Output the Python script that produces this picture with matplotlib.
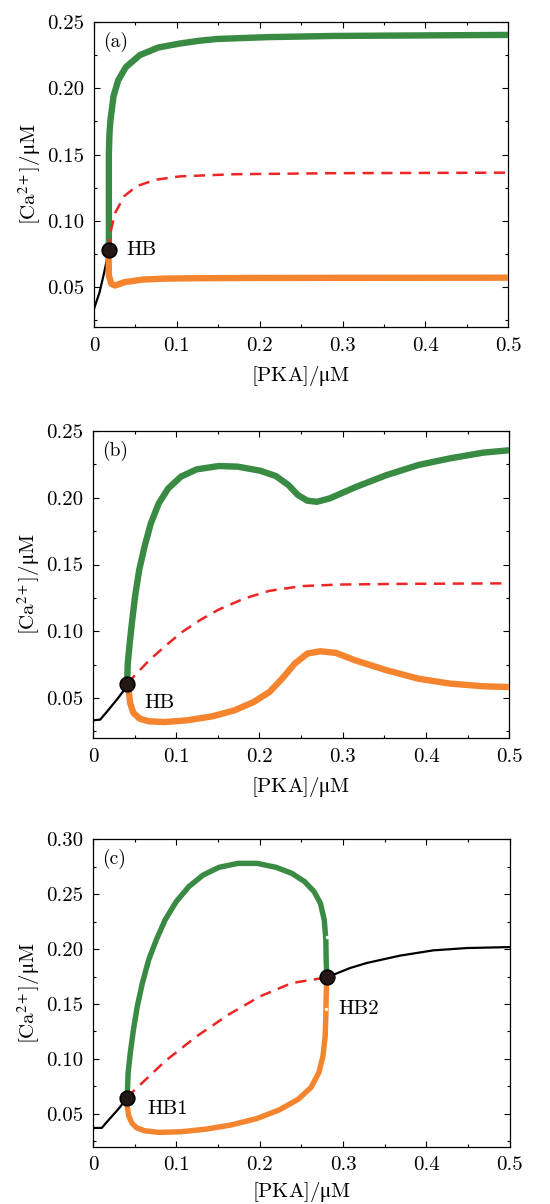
import numpy as np
import matplotlib
matplotlib.use('Agg')
import matplotlib.pyplot as plt
from matplotlib.ticker import MultipleLocator

plt.rcParams['font.family'] = ['cmr10', 'DejaVu Serif']
plt.rcParams['mathtext.fontset'] = 'stix'
plt.rcParams['axes.unicode_minus'] = False
plt.rcParams['axes.formatter.use_mathtext'] = True

GREEN = '#398a43'
ORANGE = '#f5842f'
RED = '#ee2525'
DOT = '#231815'
UM = r'$\mathrm{\mu}$M'

####################################################################
### (a)
####################################################################
a_black_x = [0.0, 0.0067, 0.0123, 0.0179]
a_black_y = [0.0338, 0.0463, 0.0613, 0.078]
a_green_x = [0.0179, 0.0179, 0.0179, 0.0186, 0.0198, 0.0235, 0.0291, 0.0384, 0.0552, 0.0776,
             0.1037, 0.126, 0.148, 0.2085, 0.289, 0.5]
a_green_y = [0.078, 0.0813, 0.151, 0.166, 0.176, 0.194, 0.206, 0.216, 0.225, 0.2308,
             0.2338, 0.2358, 0.2372, 0.2386, 0.2395, 0.2403]
a_orange_x = [0.0179, 0.0176, 0.0179, 0.0209, 0.0254, 0.0366, 0.059, 0.085, 0.126, 0.2, 0.3, 0.5]
a_orange_y = [0.078, 0.0713, 0.0588, 0.0525, 0.0513, 0.0538, 0.0558, 0.0565, 0.0568, 0.057,
              0.0571, 0.0572]
a_red_x = [0.0179, 0.0198, 0.0254, 0.0366, 0.0515, 0.0739, 0.1037, 0.168, 0.289, 0.5]
a_red_y = [0.078, 0.0913, 0.106, 0.1188, 0.1262, 0.1310, 0.1336, 0.1352, 0.1360, 0.1364]
a_hb_x = [0.0179]
a_hb_y = [0.078]

####################################################################
### (b)
####################################################################
b_black_x = [0.0, 0.0087, 0.0182, 0.0296, 0.0403, 0.041]
b_black_y = [0.0333, 0.0338, 0.0408, 0.0495, 0.0583, 0.0608]
b_green_x = [0.041, 0.0418, 0.0441, 0.0467, 0.0505, 0.0555, 0.0619, 0.0695, 0.079, 0.0904,
             0.1056, 0.1246, 0.1512, 0.174, 0.2006, 0.2196, 0.2348, 0.2462, 0.2576, 0.269,
             0.2842, 0.3146, 0.3526, 0.3906, 0.4286, 0.4685, 0.5]
b_green_y = [0.0608, 0.0758, 0.0908, 0.1058, 0.1258, 0.1458, 0.1633, 0.1808, 0.1958, 0.207,
             0.2158, 0.2213, 0.2238, 0.2233, 0.2203, 0.2163, 0.2095, 0.202, 0.1978, 0.197,
             0.1995, 0.2078, 0.217, 0.2245, 0.2295, 0.2338, 0.2356]
b_orange_x = [0.041, 0.0429, 0.0448, 0.0486, 0.0562, 0.0676, 0.0866, 0.1132, 0.1436, 0.1702,
              0.193, 0.212, 0.2272, 0.2424, 0.2576, 0.2728, 0.2918, 0.3146, 0.3526, 0.3906,
              0.4286, 0.4685, 0.5]
b_orange_y = [0.0608, 0.0558, 0.0458, 0.0388, 0.0345, 0.0325, 0.032, 0.0333, 0.0363, 0.0408,
              0.047, 0.0545, 0.0645, 0.0758, 0.0833, 0.085, 0.0838, 0.0783, 0.0708, 0.0645,
              0.0608, 0.0588, 0.0582]
b_red_x = [0.041, 0.0486, 0.0676, 0.0866, 0.1056, 0.1284, 0.1512, 0.1816, 0.212, 0.25,
           0.2956, 0.3716, 0.4666, 0.5]
b_red_y = [0.0608, 0.0658, 0.0783, 0.0888, 0.0988, 0.1083, 0.1163, 0.1245, 0.1303, 0.1338,
           0.135, 0.1355, 0.1358, 0.1359]
b_hb_x = [0.041]
b_hb_y = [0.0608]

####################################################################
### (c)
####################################################################
c_black1_x = [0.0, 0.0106, 0.019, 0.0296, 0.041]
c_black1_y = [0.0372, 0.0372, 0.0446, 0.0536, 0.0642]
c_black2_x = [0.2804, 0.3083, 0.3283, 0.3682, 0.4081, 0.448, 0.5]
c_black2_y = [0.1742, 0.1827, 0.1873, 0.194, 0.1988, 0.2009, 0.2018]
c_green_x = [0.041, 0.0422, 0.0448, 0.0486, 0.0532, 0.0593, 0.0669, 0.076, 0.0866, 0.0999,
             0.1151, 0.1322, 0.1512, 0.174, 0.1968, 0.2196, 0.2386, 0.2538, 0.2652, 0.2728,
             0.2774, 0.2793, 0.2797, 0.2804]
c_green_y = [0.0642, 0.0875, 0.1056, 0.1268, 0.1479, 0.1691, 0.1903, 0.2084, 0.2266, 0.2432,
             0.2569, 0.2674, 0.2744, 0.278, 0.278, 0.2744, 0.2689, 0.2614, 0.2523, 0.2417,
             0.2266, 0.2084, 0.1903, 0.1742]
c_orange_x = [0.041, 0.041, 0.0429, 0.0467, 0.0524, 0.0619, 0.079, 0.1056, 0.136, 0.1664,
              0.1968, 0.2234, 0.2462, 0.2614, 0.2709, 0.2759, 0.2785, 0.2793, 0.2797, 0.2804]
c_orange_y = [0.0642, 0.0572, 0.0482, 0.0415, 0.0373, 0.0346, 0.0331, 0.0337, 0.0361, 0.04,
              0.0458, 0.0536, 0.0633, 0.0739, 0.0875, 0.1026, 0.1208, 0.1389, 0.1571, 0.1742]
c_red_x = [0.041, 0.0467, 0.0866, 0.1246, 0.1626, 0.2006, 0.2386, 0.2804]
c_red_y = [0.0642, 0.0693, 0.098, 0.1207, 0.1403, 0.157, 0.1691, 0.1742]
c_hb_x = [0.041, 0.2804]
c_hb_y = [0.0642, 0.1742]
c_spot_x = [0.2803, 0.2800]
c_spot_y = [0.211, 0.145]

####################################################################
### Figure
####################################################################
fig = plt.figure(figsize=(5.5, 12.04), dpi=100)
fig.patch.set_facecolor('white')

rects = [
    [0.171, 0.7284, 0.753, 0.2533],
    [0.169, 0.387, 0.757, 0.255],
    [0.169, 0.0475, 0.758, 0.2555],
]


def style(ax, ymax, yticks, xpad=7):
    ax.set_xlim(0, 0.5)
    ax.set_ylim(0.02, ymax)
    ax.set_xticks([0, 0.1, 0.2, 0.3, 0.4, 0.5])
    ax.set_xticklabels(['0', '0.1', '0.2', '0.3', '0.4', '0.5'])
    ax.set_yticks(yticks)
    ax.set_yticklabels(['%.2f' % v for v in yticks])
    ax.xaxis.set_minor_locator(MultipleLocator(0.05))
    ax.yaxis.set_minor_locator(MultipleLocator(0.025))
    ax.tick_params(axis='both', which='major', direction='in', length=4, width=0.8,
                   labelsize=15, pad=7, top=True, right=True)
    ax.tick_params(axis='both', which='minor', direction='in', length=2.5, width=0.8,
                   top=True, right=True)
    for sp in ax.spines.values():
        sp.set_linewidth(0.9)
    ax.set_xlabel('[PKA]/' + UM, fontsize=15, labelpad=xpad)
    ax.set_ylabel('[Ca$^{2+}$]/' + UM, fontsize=15, labelpad=3)


def hb(ax, x, y):
    ax.plot(x, y, ls='none', marker='o', ms=10.5, mfc=DOT, mec='black', mew=1.2, zorder=10)


line_kw = dict(solid_capstyle='round', solid_joinstyle='round')
dash = (0, (4.5, 3))

# (a)
ax_a = fig.add_axes(rects[0])
style(ax_a, 0.25, [0.05, 0.10, 0.15, 0.20, 0.25])
ax_a.plot(a_green_x, a_green_y, c=GREEN, lw=4.6, zorder=3, **line_kw)
ax_a.plot(a_orange_x, a_orange_y, c=ORANGE, lw=4.6, zorder=3, **line_kw)
ax_a.plot(a_red_x, a_red_y, c=RED, lw=1.8, ls=dash, zorder=4)
ax_a.plot(a_black_x, a_black_y, c='black', lw=1.6, zorder=2)
hb(ax_a, a_hb_x, a_hb_y)
ax_a.text(0.039, 0.078, 'HB', fontsize=15, va='center', ha='left')
ax_a.text(0.022, 0.935, '(a)', fontsize=14, transform=ax_a.transAxes, va='center')

# (b)
ax_b = fig.add_axes(rects[1])
style(ax_b, 0.25, [0.05, 0.10, 0.15, 0.20, 0.25])
ax_b.plot(b_green_x, b_green_y, c=GREEN, lw=4.6, zorder=3, **line_kw)
ax_b.plot(b_orange_x, b_orange_y, c=ORANGE, lw=4.6, zorder=3, **line_kw)
ax_b.plot(b_red_x, b_red_y, c=RED, lw=1.8, ls=dash, zorder=4)
ax_b.plot(b_black_x, b_black_y, c='black', lw=1.6, zorder=2)
hb(ax_b, b_hb_x, b_hb_y)
ax_b.text(0.0616, 0.046, 'HB', fontsize=15, va='center', ha='left')
ax_b.text(0.022, 0.935, '(b)', fontsize=14, transform=ax_b.transAxes, va='center')

# (c)
ax_c = fig.add_axes(rects[2])
style(ax_c, 0.30, [0.05, 0.10, 0.15, 0.20, 0.25, 0.30], xpad=4)
ax_c.plot(c_green_x, c_green_y, c=GREEN, lw=3.9, zorder=3, **line_kw)
ax_c.plot(c_orange_x, c_orange_y, c=ORANGE, lw=3.9, zorder=3, **line_kw)
ax_c.plot(c_red_x, c_red_y, c=RED, lw=1.8, ls=dash, zorder=4)
ax_c.plot(c_black1_x, c_black1_y, c='black', lw=1.6, zorder=2)
ax_c.plot(c_black2_x, c_black2_y, c='black', lw=1.6, zorder=2)
ax_c.plot(c_spot_x, c_spot_y, ls='none', marker='o', ms=2.5, mfc='white', mec='none', zorder=5)
hb(ax_c, c_hb_x, c_hb_y)
ax_c.text(0.0647, 0.0545, 'HB1', fontsize=15, va='center', ha='left')
ax_c.text(0.2943, 0.1455, 'HB2', fontsize=15, va='center', ha='left')
ax_c.text(0.022, 0.935, '(c)', fontsize=14, transform=ax_c.transAxes, va='center')

fig.savefig('out.png', dpi=100)
